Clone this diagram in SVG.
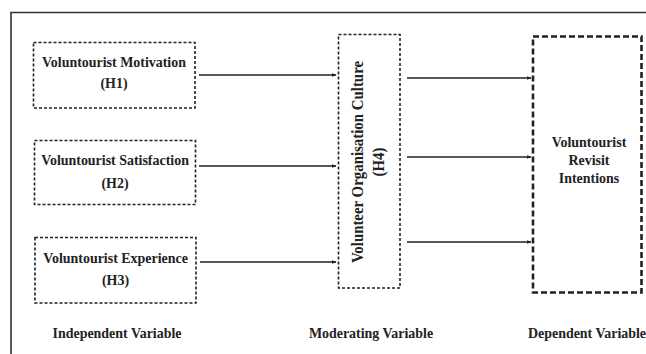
<svg xmlns="http://www.w3.org/2000/svg" width="646" height="354" viewBox="0 0 646 354">
<defs>
<style>
.t{font-family:"Liberation Serif","Times New Roman",serif;font-weight:bold;font-size:15px;fill:#222;text-anchor:middle}
.bx{fill:none;stroke:#222;stroke-width:1.6;stroke-dasharray:3 2}
.bx2{fill:none;stroke:#222;stroke-width:2.6;stroke-dasharray:6 3}
.ln{stroke:#222;stroke-width:1.6;fill:none;marker-end:url(#ah)}
</style>
<marker id="ah" viewBox="0 0 10 10" refX="9" refY="5" markerWidth="5" markerHeight="5" orient="auto" markerUnits="userSpaceOnUse">
<path d="M0,1 L10,5 L0,9 Z" fill="#222"/>
</marker>
</defs>
<rect width="646" height="354" fill="#fff"/>
<path d="M11,354 V12.5 H646" fill="none" stroke="#333" stroke-width="1.6"/>
<g id="h1">
<rect class="bx" x="33.5" y="42.5" width="161.5" height="65.5"/>
<text class="t" transform="translate(114,67) scale(0.93,1)">Voluntourist Motivation</text>
<text class="t" transform="translate(114,88) scale(0.93,1)">(H1)</text>
</g>
<g id="h2">
<rect class="bx" x="34.5" y="140.5" width="161" height="64"/>
<text class="t" transform="translate(115,165) scale(0.93,1)">Voluntourist Satisfaction</text>
<text class="t" transform="translate(115,188) scale(0.93,1)">(H2)</text>
</g>
<g id="h3">
<rect class="bx" x="35" y="237.5" width="161" height="65.5"/>
<text class="t" transform="translate(115.5,263) scale(0.93,1)">Voluntourist Experience</text>
<text class="t" transform="translate(115.5,285) scale(0.93,1)">(H3)</text>
</g>
<g id="h4">
<rect class="bx" x="338.5" y="34.5" width="61.5" height="253.5"/>
<text class="t" style="font-size:16px" transform="translate(363,162) rotate(-90) scale(0.93,1)">Volunteer Organisation Culture</text>
<text class="t" style="font-size:16px" transform="translate(384,162) rotate(-90) scale(0.93,1)">(H4)</text>
</g>
<g id="dv">
<rect class="bx2" x="533" y="36.5" width="108.5" height="256"/>
<text class="t" transform="translate(589,147) scale(0.93,1)">Voluntourist</text>
<text class="t" transform="translate(589,165) scale(0.93,1)">Revisit</text>
<text class="t" transform="translate(589,183) scale(0.93,1)">Intentions</text>
</g>
<g id="labels">
<text class="t" transform="translate(117,338) scale(0.93,1)">Independent Variable</text>
<text class="t" transform="translate(371,338) scale(0.93,1)">Moderating Variable</text>
<text class="t" transform="translate(587,338) scale(0.93,1)">Dependent Variable</text>
</g>
<g id="connectors">
<line class="ln" x1="199" y1="75" x2="336" y2="75"/>
<line class="ln" x1="199" y1="166" x2="336" y2="166"/>
<line class="ln" x1="200" y1="262" x2="336" y2="262"/>
<line class="ln" x1="407" y1="78" x2="531" y2="78"/>
<line class="ln" x1="407" y1="157" x2="531" y2="157"/>
<line class="ln" x1="407" y1="242" x2="531" y2="242"/>
</g>
</svg>
